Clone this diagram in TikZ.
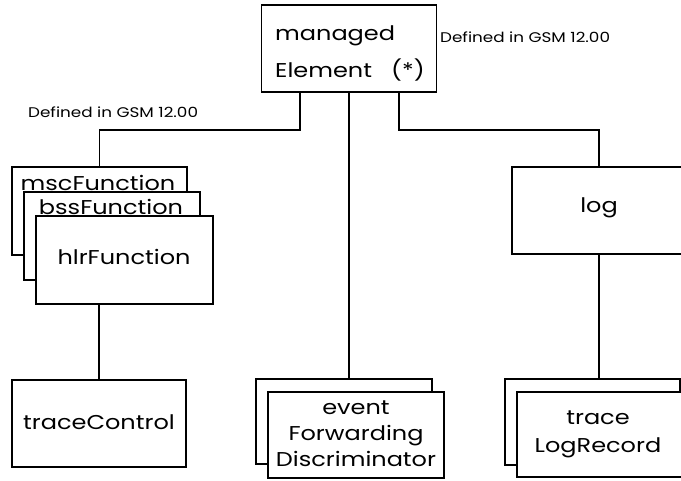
\documentclass[tikz,border=0pt]{standalone}
\usepackage{fontspec}
\setmainfont{Poppins}[FakeStretch=1.2]
\usetikzlibrary{positioning}

\begin{document}
\begin{tikzpicture}[x=1pt, y=-1pt,
  box/.style={draw, line width=1.4pt, fill=white, inner sep=0pt},
  cls/.style={font=\fontsize{20}{26}\selectfont, align=center, inner sep=0pt},
  note/.style={font=\fontsize{14}{16}\selectfont, inner sep=0pt},
  link/.style={line width=1.4pt}]
  \useasboundingbox (0,0) rectangle (681,480);

  % root
  \node[box, minimum width=175pt, minimum height=87pt] (root) at (349,48.5) {};
  \node[cls, align=left, anchor=west, font=\fontsize{20}{37}\selectfont] (rootname) at (275,53) {managed\\Element\ \ \ (*)};
  \node[note, anchor=west] (noteright) at (440,37) {Defined in GSM 12.00};
  \node[note, anchor=west] (noteleft) at (28,112) {Defined in GSM 12.00};

  % function stack
  \node[box, minimum width=175pt, minimum height=88pt] (msc) at (99.5,211) {};
  \node[cls] (msctext) at (98,183) {mscFunction};
  \node[box, minimum width=176pt, minimum height=88pt] (bss) at (112,236) {};
  \node[cls] (bsstext) at (111,207) {bssFunction};
  \node[box, minimum width=177pt, minimum height=88pt] (hlr) at (124.5,260) {};
  \node[cls] (hlrtext) at (124,257) {hlrFunction};

  \node[box, minimum width=174pt, minimum height=87pt] (tracectl) at (99,423.5) {};
  \node[cls] (tracectltext) at (99,422) {traceControl};

  % log side
  \node[box, minimum width=174pt, minimum height=87pt] (log) at (599,210.5) {};
  \node[cls] (logtext) at (599,208) {log};
  \node[box, minimum width=175pt, minimum height=86pt] (logback) at (592.5,422) {};
  \node[box, minimum width=183pt, minimum height=85pt] (logfront) at (608.5,434.5) {};
  \node[cls, font=\fontsize{20}{28}\selectfont] (logrectext) at (598,434) {trace\\LogRecord};

  % discriminator
  \node[box, minimum width=176pt, minimum height=85pt] (efdback) at (344,421.5) {};
  \node[box, minimum width=176pt, minimum height=86pt] (efdfront) at (356,435) {};
  \node[cls] (efdtext) at (356,434) {event\\Forwarding\\Discriminator};

  % links
  \coordinate (jl) at (300,130);
  \coordinate (jr) at (399,130);
  \draw[link] (jl |- root.south) -- (jl) -| (msc.north);
  \draw[link] (jr |- root.south) -- (jr) -| (log.north);
  \draw[link] (root.south) -- (root.south |- efdback.north);
  \draw[link] (tracectl.north |- hlr.south) -- (tracectl.north);
  \draw[link] (log.south) -- (log.south |- logback.north);
\end{tikzpicture}
\end{document}
